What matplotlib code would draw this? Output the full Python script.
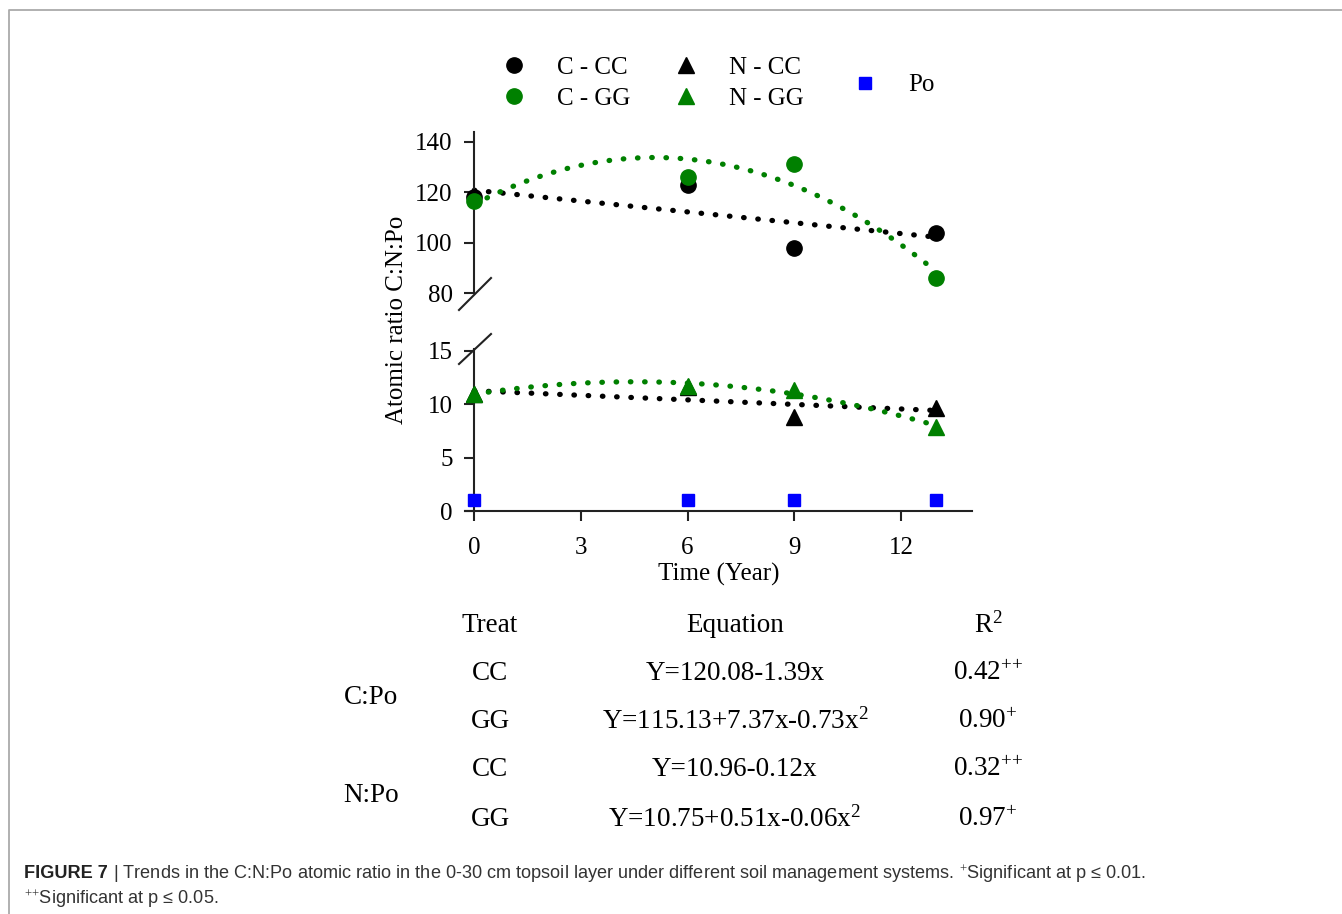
import numpy as np
import matplotlib
matplotlib.use("Agg")
from matplotlib import pyplot as plt
from matplotlib.lines import Line2D

# data
years = [0, 6, 9, 13]
c_cc = [118, 123, 98, 104]
c_gg = [116.5, 126, 131, 86]
n_cc = [11.0, 11.6, 8.8, 9.7]
n_gg = [11.0, 11.7, 11.3, 7.9]
po = [1.0, 1.0, 1.0, 1.0]
xticks = [0, 3, 6, 9, 12]

groups = ["C:Po", "N:Po"]
treats = ["CC", "GG", "CC", "GG"]
equations = ["Y=120.08-1.39x", "Y=115.13+7.37x-0.73x$^2$",
             "Y=10.96-0.12x", "Y=10.75+0.51x-0.06x$^2$"]
r2 = ["0.42$^{{+}{+}}$", "0.90$^{+}$", "0.32$^{{+}{+}}$", "0.97$^{+}$"]

plt.rcParams["font.family"] = ["Liberation Serif", "DejaVu Serif"]
plt.rcParams["mathtext.fontset"] = "custom"
plt.rcParams["mathtext.rm"] = "Liberation Serif"
plt.rcParams["mathtext.it"] = "Liberation Serif"

W, H = 1342, 914
def fx(p):
    return p / W
def fy(p):
    return 1 - p / H

GREEN = "#008000"
BLUE = "#0000ff"
SPINE = "#222222"
FS = 18

fig = plt.figure(figsize=(W / 100, H / 100), dpi=100)

ax_top = fig.add_axes([fx(465), fy(293), fx(972) - fx(465), (293 - 132) / H])
ax_bot = fig.add_axes([fx(465), fy(511), fx(972) - fx(465), (511 - 349) / H])

xs = np.linspace(0, 13, 200)
dot = dict(lw=3.8, ls=(0, (0.1, 2.6)), dash_capstyle="round")

# C ratio panel
ax_top.plot(xs, np.polyval(np.polyfit(years, c_cc, 1), xs), color="black", **dot, zorder=2)
ax_top.plot(xs, np.polyval(np.polyfit(years, c_gg, 2), xs), color=GREEN, **dot, zorder=2)
ax_top.plot(years, c_cc, "o", color="black", ms=11, zorder=3)
ax_top.plot(years, c_gg, "o", color=GREEN, ms=11, zorder=4)

# N and Po panel
ax_bot.plot(xs, np.polyval(np.polyfit(years, n_cc, 1), xs), color="black", **dot, zorder=2)
ax_bot.plot(xs, np.polyval(np.polyfit(years, n_gg, 2), xs), color=GREEN, **dot, zorder=2)
ax_bot.plot(years, n_cc, "^", color="black", ms=11, zorder=3)
ax_bot.plot(years, n_gg, "^", color=GREEN, ms=11, zorder=4)
ax_bot.plot(years, po, "s", color=BLUE, ms=9, zorder=4)

ax_top.set_ylim(80, 80 + (293 - 132) / 2.52)
ax_top.set_yticks([80, 100, 120, 140])
ax_bot.set_ylim(0, 15.0 + 2 / 10.87)
ax_bot.set_yticks([0, 5, 10, 15])

for ax in (ax_top, ax_bot):
    ax.set_xlim(-0.26, 14)
    ax.set_xticks(xticks)
    ax.set_facecolor("none")
    ax.spines["top"].set_visible(False)
    ax.spines["right"].set_visible(False)
    ax.spines["left"].set_position(("data", 0))
    for s in ("left", "bottom"):
        ax.spines[s].set_linewidth(1.5)
        ax.spines[s].set_color(SPINE)
    ax.tick_params(axis="both", direction="out", length=7, width=1.5,
                   color=SPINE, labelsize=FS, pad=8.5)
    ax.tick_params(axis="x", pad=11.5)

ax_top.spines["bottom"].set_visible(False)
ax_top.tick_params(axis="x", bottom=False, labelbottom=False)
ax_bot.set_xlabel("Time (Year)", fontsize=FS, labelpad=3)

fig.text(fx(397), fy(320), "Atomic ratio C:N:Po", rotation=90, fontsize=FS,
         ha="center", va="center")

# axis break marks
for (x0, y0, x1, y1) in [(459, 310, 491, 278), (459, 364, 491, 334)]:
    fig.add_artist(Line2D([fx(x0), fx(x1)], [fy(y0), fy(y1)], color=SPINE,
                          lw=1.5, transform=fig.transFigure))

# legend
def mk(marker, color, ms):
    return Line2D([], [], ls="none", marker=marker, color=color, ms=ms)

leg_kw = dict(frameon=False, fontsize=FS, handlelength=1.0, handletextpad=1.25,
              borderpad=0, borderaxespad=0, labelspacing=0.35, loc="center left",
              bbox_transform=fig.transFigure)
fig.legend([mk("o", "black", 11), mk("o", GREEN, 11)], ["C - CC", "C - GG"],
           bbox_to_anchor=(fx(501), fy(83)), **leg_kw)
fig.legend([mk("^", "black", 11), mk("^", GREEN, 11)], ["N - CC", "N - GG"],
           bbox_to_anchor=(fx(673), fy(83)), **leg_kw)
fig.legend([mk("s", BLUE, 9)], ["Po"],
           bbox_to_anchor=(fx(852), fy(85)), **leg_kw)

# equation table
tfs = 19.5
for x, t in [(490, "Treat"), (735, "Equation"), (988, "R$^2$")]:
    fig.text(fx(x), fy(625), t, fontsize=tfs, ha="center", va="center")
rows_y = [673, 721, 770, 819]
for i, yy in enumerate(rows_y):
    fig.text(fx(490), fy(yy), treats[i], fontsize=tfs, ha="center", va="center")
    fig.text(fx(735), fy(yy), equations[i], fontsize=tfs, ha="center", va="center")
    fig.text(fx(988), fy(yy), r2[i], fontsize=tfs, ha="center", va="center")
for g, yy in zip(groups, [697, 795]):
    fig.text(fx(371), fy(yy), g, fontsize=tfs, ha="center", va="center")

# frame lines of the panel
fig.add_artist(Line2D([fx(9), fx(9), 1.0], [0.0, fy(10), fy(10)], color="#aaaaaa",
                      lw=1.3, transform=fig.transFigure))

# caption
cap_font = ["Liberation Sans", "DejaVu Sans"]
cfs = 13.1
renderer = fig.canvas.get_renderer()
t1 = fig.text(fx(24), fy(874), "FIGURE 7", fontsize=cfs, fontweight="bold",
              family=cap_font, color="#222222", va="center")
bb = t1.get_window_extent(renderer)
fig.text(bb.x1 / W, fy(874),
         " | Trends in the C:N:Po atomic ratio in the 0-30 cm topsoil layer under "
         "different soil management systems. $^{+}$Significant at p \u2264 0.01.",
         fontsize=cfs, family=cap_font, color="#333333", va="center")
fig.text(fx(24), fy(899), "$^{{+}{+}}$Significant at p \u2264 0.05.", fontsize=cfs,
         family=cap_font, color="#333333", va="center")

fig.savefig("out.png", dpi=100)
